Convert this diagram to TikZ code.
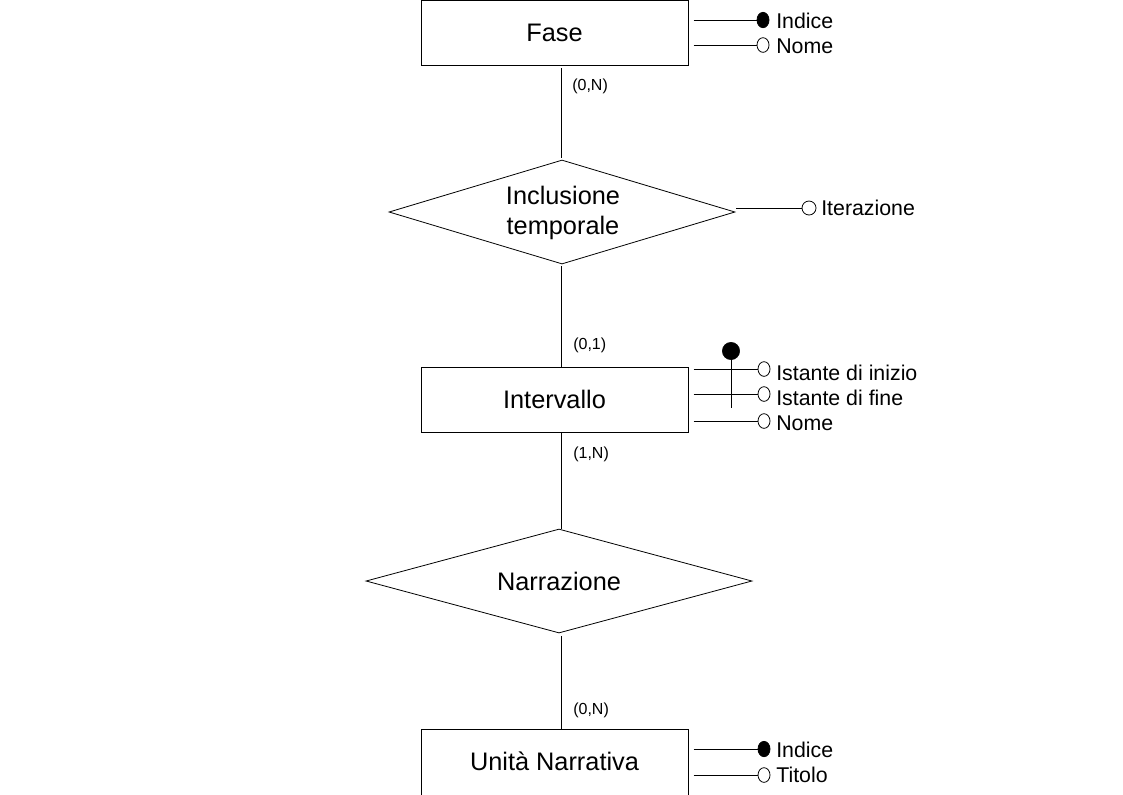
\documentclass[tikz,border=0pt]{standalone}
\usepackage{fontspec}
\setmainfont{Liberation Sans}
\usetikzlibrary{shapes.geometric}
\begin{document}
\begin{tikzpicture}[x=0.75pt,y=-0.75pt,
  entity/.style={draw,line width=0.75pt,minimum width=200.25pt,minimum height=48.75pt,inner sep=0pt,font=\fontsize{19}{22}\selectfont},
  relation/.style={draw,diamond,line width=0.6pt,inner sep=0pt,aspect=3.3,font=\fontsize{19}{22}\selectfont,align=center},
  attr/.style={draw,ellipse,inner sep=0pt,minimum width=9pt,minimum height=11pt,line width=0.6pt},
  keyattr/.style={attr,fill=black,minimum width=9pt,minimum height=11.5pt},
  alabel/.style={anchor=west,inner sep=0pt,font=\fontsize{16}{18}\selectfont},
  card/.style={anchor=west,inner sep=0pt,font=\fontsize{12}{14}\selectfont},
  conn/.style={line width=0.75pt}]

\useasboundingbox (0,0) rectangle (1123,794);
\clip (0,0) rectangle (1123,794);

% Entities
\node[entity] (fase) at (554.5,33) {Fase};
\node[entity] (intervallo) at (554.5,399.5) {Intervallo};
\node[entity,minimum height=60pt] (unita) at (554.5,769) {};
\node[font=\fontsize{19}{22}\selectfont,inner sep=0pt] (unitatxt) at (554.5,761.5) {Unità Narrativa};

% Relationships
\node[relation,minimum width=259.5pt,minimum height=78pt] (incl) at (562,212) {};
\node[font=\fontsize{19}{22}\selectfont,align=center,inner sep=0pt] (incltxt) at (563,213) {Inclusione\\temporale};
\node[relation,minimum width=289.5pt,minimum height=78pt] (narr) at (559,581) {Narrazione};

% Connectors
\coordinate (c1a) at (561,68);
\coordinate (c1b) at (561,158);
\coordinate (c2a) at (561,266);
\coordinate (c3a) at (561,433);
\coordinate (c3b) at (561,529);
\coordinate (c4a) at (561,636);
\draw[conn] (c1a) -- (c1b);
\draw[conn] (c2a) -- (c2a |- intervallo.north);
\draw[conn] (c3a) -- (c3b);
\draw[conn] (c4a) -- (c4a |- unita.north);

% Cardinalities
\node[card] (k1) at (572,86) {(0,N)};
\node[card] (k2) at (573,345) {(0,1)};
\node[card] (k3) at (573,454) {(1,N)};
\node[card] (k4) at (573,710) {(0,N)};

% Fase attributes
\node[keyattr] (fi) at (763,20) {};
\node[attr] (fn) at (763,45) {};
\node[alabel] (fil) at (776,21) {Indice};
\node[alabel] (fnl) at (776,46) {Nome};
\draw[conn] ([xshift=3.75pt]fase.east |- fi.west) -- (fi.west);
\draw[conn] ([xshift=3.75pt]fase.east |- fn.west) -- (fn.west);

% Inclusione attribute
\node[attr,minimum width=10.5pt,minimum height=10.5pt] (it) at (809,208) {};
\node[alabel] (itl) at (821,208) {Iterazione};
\draw[conn] ([xshift=0.75pt]incl.east |- it.west) -- (it.west);

% Intervallo attributes
\node[attr] (ii) at (764,369) {};
\node[attr] (if) at (764,394) {};
\node[attr] (in) at (764,421) {};
\node[alabel] (iil) at (776,373) {Istante di inizio};
\node[alabel] (ifl) at (776,398) {Istante di fine};
\node[alabel] (inl) at (776,423) {Nome};
\draw[conn] ([xshift=3.75pt]intervallo.east |- ii.west) -- (ii.west);
\draw[conn] ([xshift=3.75pt]intervallo.east |- if.west) -- (if.west);
\draw[conn] ([xshift=3.75pt]intervallo.east |- in.west) -- (in.west);
\node[draw,circle,fill=black,inner sep=0pt,minimum size=13pt] (ik) at (731,351) {};
\coordinate (ikend) at (731,408);
\draw[conn] (ik.center) -- (ikend);

% Unita attributes
\node[keyattr] (ui) at (764,749) {};
\node[attr] (ut) at (764,775) {};
\node[alabel] (uil) at (776,750) {Indice};
\node[alabel] (utl) at (776,775) {Titolo};
\draw[conn] ([xshift=3.75pt]unita.east |- ui.west) -- (ui.west);
\draw[conn] ([xshift=3.75pt]unita.east |- ut.west) -- (ut.west);
\end{tikzpicture}
\end{document}
